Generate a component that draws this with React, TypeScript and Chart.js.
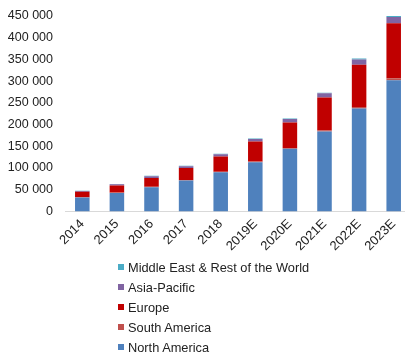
import React, { useEffect, useRef } from "react";
import { Chart, registerables } from "chart.js";

Chart.register(...registerables);

const categories = ["2014", "2015", "2016", "2017", "2018", "2019E", "2020E", "2021E", "2022E", "2023E"];
const northAmerica = [32000, 42500, 55500, 71000, 90000, 113000, 144000, 184000, 237000, 302000];
const southAmerica = [700, 900, 1100, 1300, 1500, 1800, 2000, 2500, 3500, 4500];
const europe = [12500, 16500, 20500, 27500, 35000, 46000, 59000, 76000, 97500, 127000];
const asiaPacific = [2000, 2700, 3800, 4200, 5000, 6000, 7500, 9300, 12000, 14000];
const middleEast = [600, 700, 900, 1000, 1100, 1200, 1500, 1700, 2000, 2500];
const yTicks = [0, 50000, 100000, 150000, 200000, 250000, 300000, 350000, 400000, 450000];

const series = [
  { label: "North America", data: northAmerica, color: "#4F81BD" },
  { label: "South America", data: southAmerica, color: "#C0504D" },
  { label: "Europe", data: europe, color: "#C00000" },
  { label: "Asia-Pacific", data: asiaPacific, color: "#8064A2" },
  { label: "Middle East & Rest of the World", data: middleEast, color: "#4BACC6" },
];

const FONT = "'Liberation Sans', Arial, sans-serif";

export default function App() {
  const ref = useRef<HTMLCanvasElement | null>(null);
  useEffect(() => {
    document.body.style.margin = "0";
    document.body.style.overflow = "hidden";
    const chart = new Chart(ref.current!, {
      type: "bar",
      data: {
        labels: categories,
        datasets: series.map((s) => ({
          label: s.label,
          data: s.data,
          backgroundColor: s.color,
          borderWidth: 0,
          categoryPercentage: 1,
          barPercentage: 0.42,
        })),
      },
      options: {
        responsive: false,
        animation: false,
        layout: { padding: { left: 7, top: 16, right: 0, bottom: 0 } },
        plugins: { legend: { display: false }, tooltip: { enabled: false } },
        scales: {
          x: {
            stacked: true,
            grid: { display: false, drawTicks: false },
            border: { display: true, color: "#D9D9D9", width: 1 },
            afterFit: (scale: any) => {
              scale.paddingLeft = 0;
              scale.paddingRight = 0;
            },
            ticks: {
              minRotation: 45,
              maxRotation: 45,
              autoSkip: false,
              padding: 5,
              color: "#222",
              font: { family: FONT, size: 13 },
            },
          },
          y: {
            stacked: true,
            min: 0,
            max: 450000,
            afterBuildTicks: (axis: any) => {
              axis.ticks = yTicks.map((v) => ({ value: v }));
            },
            afterFit: (scale: any) => {
              scale.width = 58;
              scale.paddingTop = 0;
              scale.paddingBottom = 0;
            },
            grid: { display: false, drawTicks: false },
            border: { display: false },
            ticks: {
              padding: 12,
              color: "#222",
              font: { family: FONT, size: 12.5 },
              callback: (v: any) => String(v).replace(/\B(?=(\d{3})+(?!\d))/g, " "),
            },
          },
        },
      },
    });
    return () => chart.destroy();
  }, []);

  const legendItems = [...series].reverse();
  return (
    <div style={{ position: "absolute", left: 0, top: 0, width: 405, height: 353, overflow: "hidden", background: "#fff" }}>
      <canvas ref={ref} width={411} height={259} style={{ display: "block", width: 411, height: 259 }} />
      <div style={{ position: "absolute", left: 118, top: 257, fontFamily: FONT, fontSize: 12.8, color: "#222" }}>
        {legendItems.map((s) => (
          <div key={s.label} style={{ height: 20, display: "flex", alignItems: "center", whiteSpace: "nowrap" }}>
            <span style={{ display: "inline-block", width: 6, height: 6, background: s.color, marginRight: 4 }} />
            <span>{s.label}</span>
          </div>
        ))}
      </div>
    </div>
  );
}
